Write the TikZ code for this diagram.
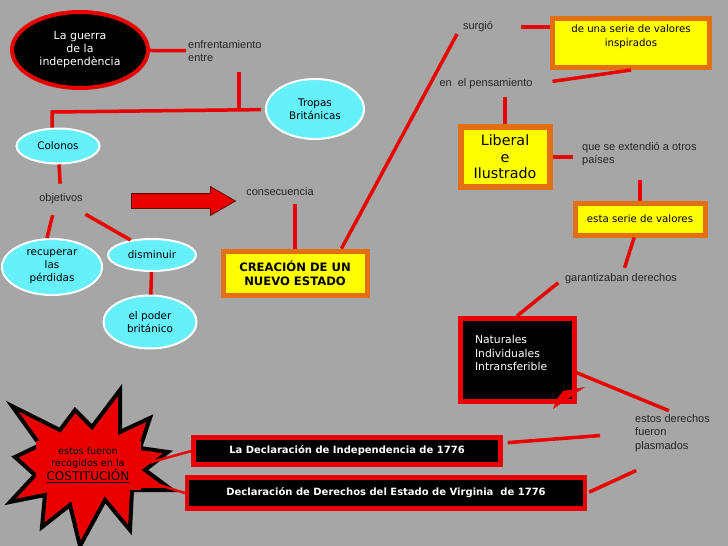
\documentclass[tikz,border=0pt]{standalone}
\usepackage{fontspec}
\setmainfont{DejaVu Sans}
\newfontfamily\arialfont{Liberation Sans}
\usetikzlibrary{shapes,arrows}

\definecolor{fondo}{RGB}{166,166,166}
\definecolor{rojo}{RGB}{234,0,0}
\definecolor{cian}{RGB}{102,240,250}
\definecolor{naranja}{RGB}{226,112,16}
\definecolor{amarillo}{RGB}{255,255,0}

\tikzset{
  enlace/.style={draw=rojo, line width=3.5pt},
  etiqueta/.style={font=\arialfont\fontsize{11}{13.5}\selectfont, text=black!85, inner sep=2pt},
  burbuja/.style={ellipse, fill=cian, draw=white, line width=2pt, inner sep=0pt,
    font=\fontsize{10.4}{13}\selectfont, align=center},
  caja/.style={rectangle, fill=amarillo, draw=naranja, line width=5pt, inner sep=0pt,
    align=center, font=\fontsize{10.2}{14.5}\selectfont},
  negra/.style={rectangle, fill=black, draw=rojo, line width=4.5pt, inner sep=0pt,
    text=white, font=\bfseries\fontsize{10}{12}\selectfont}
}

\begin{document}
\begin{tikzpicture}[x=1pt,y=-1pt]
          \useasboundingbox (0,0) rectangle (728,546);
          \fill[fondo] (0,0) rectangle (728,546);

          % left side
          \node[ellipse, fill=black, draw=rojo, line width=4pt, text=white, align=center, inner sep=0pt,
            minimum width=136pt, minimum height=76pt, font=\fontsize{11}{13}\selectfont]
            (guerra) at (80,50) {La guerra\\de la\\independència};
          \node[etiqueta, anchor=west, align=left] (enfrentamiento) at (186,51) {enfrentamiento\\entre};
          \node[burbuja, minimum width=98pt, minimum height=60pt] (tropas) at (315,109) {Tropas\\Británicas};
          \node[burbuja, minimum width=83pt, minimum height=35pt] (colonos) at (58,146) {Colonos};
          \node[etiqueta] (objetivos) at (61,199) {objetivos};
          \node[burbuja, minimum width=100pt, minimum height=56pt] (recuperar) at (52,267) {recuperar\\las\\pérdidas};
          \node[burbuja, minimum width=88pt, minimum height=32pt] (disminuir) at (152,255) {disminuir};
          \node[burbuja, minimum width=93pt, minimum height=53pt] (poder) at (150,322) {el poder\\británico};
          \node[single arrow, fill=rojo, draw=black!60!red, line width=0.8pt, inner xsep=0pt, inner ysep=7pt,
            minimum height=104pt, minimum width=28pt, single arrow head extend=7pt,
            single arrow tip angle=60] (flecha) at (177,201) {};
          \node[etiqueta] (consecuencia) at (280,192) {consecuencia};
          \node[caja, minimum width=144pt, minimum height=44pt, font=\bfseries\fontsize{11.6}{14}\selectfont]
            (creacion) at (295,273) {CREACIÓN DE UN\\NUEVO ESTADO};

          % right side
          \node[etiqueta] (surgio) at (478,27) {surgió};
          \node[caja, minimum width=157pt, minimum height=49pt] (valores) at (631,43)
            {de una serie de valores\\inspirados\\\mbox{}};
          \node[etiqueta] (pensamiento) at (486,84) {en~ el pensamiento};
          \node[caja, minimum width=89pt, minimum height=60pt, line width=6pt, font=\fontsize{14.3}{16.5}\selectfont]
            (liberal) at (505,157) {Liberal\\e\\Ilustrado};
          \node[etiqueta, anchor=west, align=left] (extendio) at (580,154) {que se extendió a otros\\países};
          \node[caja, minimum width=130pt, minimum height=32pt] (esta) at (640,219) {esta serie de valores};
          \node[etiqueta] (garantizaban) at (621,279) {garantizaban derechos};
          \node[rectangle, fill=black, draw=rojo, line width=5pt, minimum width=114pt, minimum height=83pt,
            text=white, align=left, text width=84pt, font=\fontsize{10.8}{13.5}\selectfont]
            (naturales) at (517,360) {Naturales\\Individuales\\Intransferible\\\mbox{}};
          \fill[rojo] (563,391) -- (585,387) -- (553,409) -- (557,399) -- cycle;
          \node[etiqueta, anchor=west, align=left] (plasmados) at (633,433) {estos derechos\\fueron\\plasmados};
          \node[negra, minimum width=307pt, minimum height=27pt] (independencia) at (347,451)
            {La Declaración de Independencia de 1776};
          \node[negra, minimum width=398pt, minimum height=31pt] (virginia) at (386,493)
            {Declaración de Derechos del Estado de Virginia~ de 1776};

          % starburst
          \draw[fill=rojo, draw=black, line width=4pt, line join=miter]
            (12,406) -- (60,430) -- (75,410) -- (92,427) -- (120,390) -- (120,432) -- (150,418)
            -- (140,448) -- (168,452) -- (145,470) -- (172,490) -- (132,490) -- (130,530)
            -- (105,500) -- (80,546) -- (70,505) -- (42,527) -- (45,495) -- (10,502)
            -- (35,475) -- (15,457) -- (40,445) -- cycle;
          \node[fill=rojo, minimum width=105pt, minimum height=49pt, inner sep=0pt, align=center, text=black,
            font=\fontsize{9.6}{12}\selectfont] (costitucion) at (88,465)
            {estos fueron\\recogidos en la\\{\fontsize{12}{12}\selectfont\underline{COSTITUCIÓN}}};

          \coordinate (cruce) at (239,108);
          \coordinate (esquina) at (52,112);
          \draw[enlace] (guerra) -- (enfrentamiento);
          \draw[enlace, shorten <=8pt] (cruce |- enfrentamiento.south) -- (cruce);
          \draw[enlace, shorten >=4pt] (colonos.north -| esquina) -- (esquina) -- (tropas);
          \draw[enlace, shorten >=8pt] (colonos) -- (objetivos);
          \draw[enlace, shorten <=9pt] (objetivos.230) -- (recuperar.100);
          \draw[enlace, shorten <=16pt] (objetivos.-35) -- (disminuir.145);
          \draw[enlace] (disminuir) -- (poder);
          \draw[enlace, shorten <=6pt] (creacion.north |- consecuencia.south) -- (creacion.north);
          \draw[enlace, shorten >=8pt] ([xshift=-28pt]creacion.north east) -- (surgio.west);
          \draw[enlace, shorten <=26pt] (surgio.east) -- (valores.west |- surgio.east);
          \draw[enlace, shorten >=18pt] (valores.south) -- (pensamiento.east);
          \draw[enlace, shorten <=6pt] (liberal.north |- pensamiento.south) -- (liberal.north);
          \draw[enlace, shorten >=7pt] (liberal.east) -- (extendio.west |- liberal.east);
          \draw[enlace, shorten <=12pt] (esta.north |- extendio.south) -- (esta.north);
          \draw[enlace, shorten >=4pt] (esta) -- (garantizaban);
          \draw[enlace, shorten <=6pt] (garantizaban.west) -- (naturales.north);
          \draw[enlace, shorten >=4pt] (naturales.-12) -- (plasmados.north);
          \draw[enlace, shorten <=33pt, shorten >=5pt] (plasmados.west) -- ([yshift=8pt]independencia.east);
          \draw[enlace, shorten <=40pt, shorten >=2pt] (plasmados.south) -- (virginia.east);
          \draw[enlace, line width=2.5pt, shorten <=8pt] (costitucion.east) -- (independencia.west);
          \draw[enlace, line width=2.5pt, shorten <=7pt] (costitucion.-15) -- (virginia.west);
        \end{tikzpicture}
\end{document}
